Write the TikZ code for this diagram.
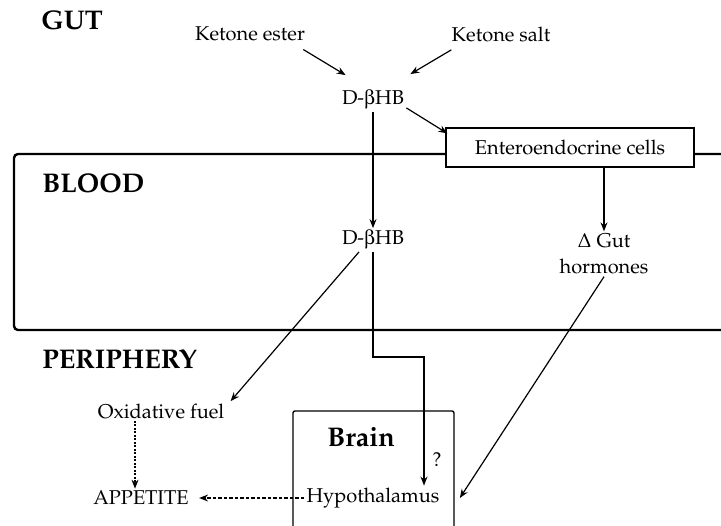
\documentclass[tikz,border=0pt]{standalone}
\usepackage[T1]{fontenc}
\usepackage{mathpazo}
\usepackage[Symbol]{upgreek}
\usetikzlibrary{arrows.meta}

\tikzset{
  lbl/.style={font=\fontsize{10}{13}\selectfont, inner sep=1pt},
  region/.style={font=\fontsize{13.5}{16}\selectfont\bfseries, anchor=west, inner sep=0pt},
  arr/.style={-{Stealth[length=4.5pt,width=3.5pt,inset=1.5pt]}, line width=0.6pt},
  dasharr/.style={arr, dash pattern=on 1.75pt off 1pt},
  dotarr/.style={arr, dash pattern=on 1pt off 0.75pt},
  cellbox/.style={lbl, draw, fill=white, line width=0.6pt, minimum width=124pt, minimum height=19.5pt}
}

\begin{document}
\begin{tikzpicture}[x=0.5pt, y=-0.5pt]
    \clip (0,0) rectangle (721,525);

    \draw[line width=1.2pt, rounded corners=2pt] (760,154) -| (14,330) -- (760,330);
    \draw[line width=0.7pt, rounded corners=1pt] (293,540) |- (454,411) -- (454,540);

    \node[region] (gut) at (41,20) {GUT};
    \node[region] (blood) at (42,183) {BLOOD};
    \node[region] (periphery) at (42,359) {PERIPHERY};

    \node[lbl] (ester) at (250,34) {Ketone ester};
    \node[lbl] (salt) at (501,34) {Ketone salt};
    \node[lbl] (dbhbgut) at (373,100) {D-$\upbeta$HB};
    \node[cellbox] (entero) at (570,147.5) {Enteroendocrine cells};
    \node[lbl] (dbhbblood) at (373,240) {D-$\upbeta$HB};
    \node[lbl, align=center] (hormones) at (604,254) {$\Delta$ Gut\\hormones};
    \node[lbl] (fuel) at (161,411) {Oxidative fuel};
    \node[lbl] (appetite) at (141,498) {APPETITE};
    \node[region, anchor=center] (brain) at (361,437) {Brain};
    \node[lbl] (hypo) at (373,498) {Hypothalamus};
    \node[lbl] (query) at (437,460) {?};
    \coordinate (bend) at (424,357);

    \draw[arr] ([shift={(-4,6)}]ester.south east) -- ([shift={(6,-13)}]dbhbgut.north west);
    \draw[arr] ([shift={(2,6)}]salt.south west) -- ([shift={(4,-14)}]dbhbgut.north east);
    \draw[arr] ([shift={(0,-4)}]dbhbgut.south east) -- ([shift={(2,6)}]entero.north west);
    \draw[arr] (dbhbgut.south) -- (dbhbblood.north);
    \draw[arr] (entero.south -| hormones.north) -- (hormones.north);
    \draw[arr] ([xshift=-7pt]dbhbblood.south) -- ([shift={(4,0)}]fuel.north east);
    \draw[arr] (dbhbblood.south) |- (bend) -- (bend |- hypo.north);
    \draw[arr] (hormones.south) -- ([xshift=9pt]hypo.east);
    \draw[dotarr] (fuel.south -| 135,0) -- (appetite.north -| 135,0);
    \draw[dasharr] (hypo.west) -- ([xshift=4pt]appetite.east);
\end{tikzpicture}
\end{document}
